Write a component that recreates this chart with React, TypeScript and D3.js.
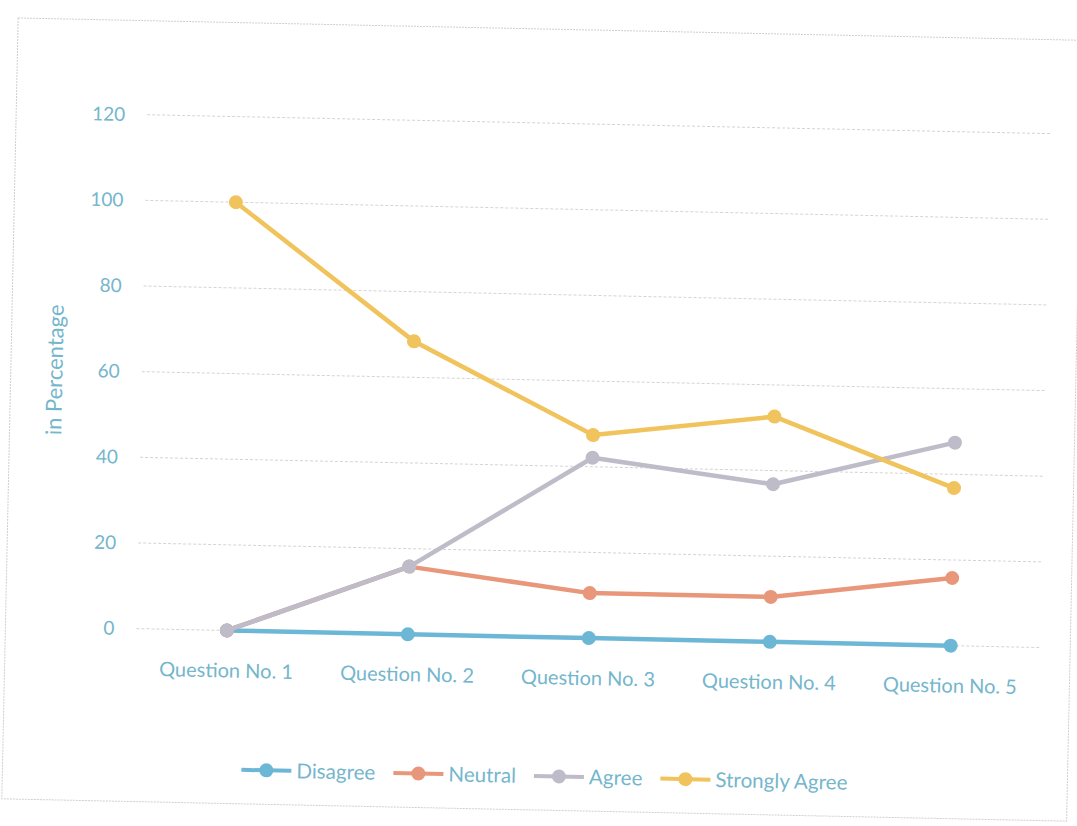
import * as React from 'react';
import {useEffect, useRef} from 'react';
import * as d3 from 'd3';

const width = 1077;
const height = 826;

const questions = ['Question No. 1', 'Question No. 2', 'Question No. 3', 'Question No. 4', 'Question No. 5'];
const disagree = [0, 0, 0, 0, 0];
const neutral = [0, 15.8, 10.5, 10.5, 15.8];
const agree = [0, 15.8, 42.1, 36.8, 47.4];
const stronglyAgree = [100, 68.4, 47.4, 52.6, 36.8];
const seriesNames = ['Disagree', 'Neutral', 'Agree', 'Strongly Agree'];
const seriesColors = ['#6db7d6', '#e9977b', '#bdbcc8', '#f1c35d'];
const yTicks = [0, 20, 40, 60, 80, 100, 120];

const textColor = '#74b6cc';
const font = 'Lato, "Open Sans", sans-serif';

export default function App() {
  const ref = useRef<SVGSVGElement>(null);

  useEffect(() => {
    const svg = d3.select(ref.current);
    svg.selectAll('*').remove();

    // the scanned chart sits slightly askew
    const g = svg.append('g').attr('transform', 'rotate(1.2, 540, 413)');

    g.append('rect')
      .attr('x', 10).attr('y', 29)
      .attr('width', 1065).attr('height', 781)
      .attr('fill', 'none')
      .attr('stroke', '#cfcfcf')
      .attr('stroke-dasharray', '2 1');

    const x = d3.scalePoint<string>().domain(questions).range([141, 1046]).padding(0.5);
    const y = d3.scaleLinear().domain([0, 120]).range([637, 123]);

    g.append('g').selectAll('line').data(yTicks).join('line')
      .attr('x1', 141).attr('x2', 1046)
      .attr('y1', d => y(d)).attr('y2', d => y(d))
      .attr('stroke', '#d4d4d4')
      .attr('stroke-dasharray', '3 2');

    g.append('g').selectAll('text').data(yTicks).join('text')
      .attr('x', 119).attr('y', d => y(d))
      .attr('dy', '0.35em')
      .attr('text-anchor', 'end')
      .style('font', `19px ${font}`)
      .attr('fill', textColor)
      .text(d => d);

    g.append('g').selectAll('text').data(questions).join('text')
      .attr('x', d => x(d)!).attr('y', 684)
      .attr('text-anchor', 'middle')
      .style('font', `20px ${font}`)
      .attr('fill', textColor)
      .text(d => d);

    g.append('text')
      .attr('transform', 'translate(54,380) rotate(-90)')
      .attr('dy', '0.35em')
      .attr('text-anchor', 'middle')
      .style('font', `22px ${font}`)
      .attr('fill', textColor)
      .text('in Percentage');

    const allSeries = [disagree, neutral, agree, stronglyAgree];
    const line = d3.line<number>()
      .x((_, i) => x(questions[i])!)
      .y(d => y(d));

    allSeries.forEach((values, si) => {
      const sg = g.append('g');
      sg.append('path')
        .attr('d', line(values))
        .attr('fill', 'none')
        .attr('stroke', seriesColors[si])
        .attr('stroke-width', 4.5)
        .attr('stroke-linejoin', 'round');
      sg.selectAll('circle').data(values).join('circle')
        .attr('cx', (_, i) => x(questions[i])!)
        .attr('cy', d => y(d))
        .attr('r', 7)
        .attr('fill', seriesColors[si]);
    });

    // legend
    const legend = g.append('g');
    const items = seriesNames.map((name, i) => {
      const item = legend.append('g');
      item.append('line')
        .attr('x1', 0).attr('x2', 50)
        .attr('stroke', seriesColors[i])
        .attr('stroke-width', 4);
      item.append('circle')
        .attr('cx', 25).attr('r', 7)
        .attr('fill', seriesColors[i]);
      const t = item.append('text')
        .attr('x', 55).attr('dy', '0.35em')
        .style('font', `20.6px ${font}`)
        .attr('fill', textColor)
        .text(name);
      return {item, w: 55 + (t.node() as SVGTextElement).getComputedTextLength()};
    });
    const gap = 18;
    const total = d3.sum(items, d => d.w) + gap * (items.length - 1);
    let cx = 552 - total / 2;
    items.forEach(d => {
      d.item.attr('transform', `translate(${cx},776)`);
      cx += d.w + gap;
    });
  }, []);

  return (
    <svg ref={ref} width={width} height={height}
      style={{position: 'absolute', left: 0, top: 0, background: '#fff'}}/>
  );
}
